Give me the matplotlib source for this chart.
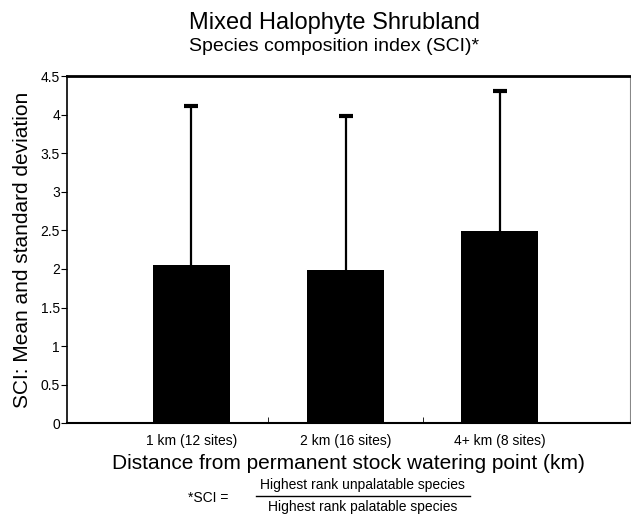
import matplotlib
matplotlib.use("Agg")
import matplotlib.pyplot as plt
import numpy as np

plt.rcParams['font.family'] = ['Liberation Sans', 'DejaVu Sans']

categories = ["1 km (12 sites)", "2 km (16 sites)", "4+ km (8 sites)"]
means = [2.05, 1.98, 2.49]
sds = [2.06, 2.00, 1.82]

fig = plt.figure(figsize=(6.31, 5.18), dpi=100)
ax = fig.add_axes([0.106, 0.183, 0.892, 0.670])

x = np.arange(len(categories))
ax.bar(x, means, width=0.5, color="black")
eb = ax.errorbar(x, means, yerr=[np.zeros(len(sds)), sds], fmt="none",
                 ecolor="black", elinewidth=1.6, capsize=5, capthick=3)
# only the upper cap is shown
eb[1][0].set_visible(False)

ax.set_xlim(-0.807, 2.843)
ax.set_ylim(0, 4.5)
ax.set_yticks(np.arange(0, 4.51, 0.5))
ax.set_yticklabels(["0", "0.5", "1", "1.5", "2", "2.5", "3", "3.5", "4", "4.5"])
ax.set_xticks(x)
ax.set_xticklabels(categories, fontsize=10)
ax.set_xticks([0.5, 1.5], minor=True)
ax.tick_params(axis="x", which="major", length=0, pad=8)
ax.tick_params(axis="x", which="minor", length=4, direction="in")
ax.tick_params(axis="y", labelsize=10, length=4, pad=1)

ax.spines["top"].set_linewidth(2)
ax.spines["bottom"].set_linewidth(1.5)
ax.spines["left"].set_linewidth(1.2)
ax.spines["right"].set_linewidth(0.8)
ax.spines["right"].set_color("#888888")

ax.set_ylabel("SCI: Mean and standard deviation", fontsize=15, labelpad=6)
ax.set_xlabel("Distance from permanent stock watering point (km)", fontsize=15, labelpad=4)

fig.text(0.53, 0.955, "Mixed Halophyte Shrubland", ha="center", va="center", fontsize=17)
fig.text(0.53, 0.91, "Species composition index (SCI)*", ha="center", va="center", fontsize=14)

# footnote formula
fig.text(0.33, 0.038, "*SCI =", ha="center", va="center", fontsize=10)
fig.text(0.575, 0.05, "Highest rank unpalatable species", ha="center", va="bottom", fontsize=10)
fig.text(0.575, 0.035, "Highest rank palatable species", ha="center", va="top", fontsize=10)
fig.add_artist(plt.Line2D([0.405, 0.745], [0.043, 0.043], color="black", lw=1))

fig.savefig("out.png", dpi=100)
